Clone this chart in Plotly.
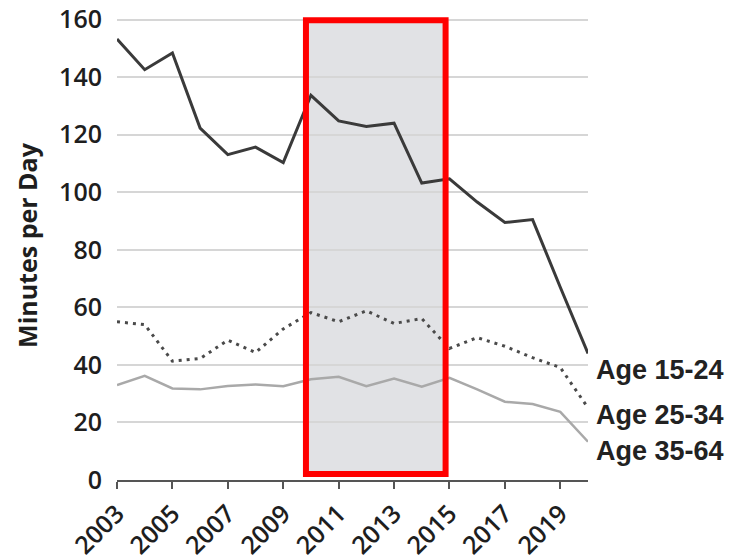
import plotly.graph_objects as go

years = list(range(2003, 2021))
age_15_24 = [153.3, 142.6, 148.4, 122.3, 113.1, 115.7, 110.3, 133.7, 124.8, 122.9,
             124.0, 103.2, 104.7, 96.6, 89.5, 90.5, 67.0, 44.0]
age_25_34 = [55.0, 54.0, 41.3, 42.2, 48.6, 44.3, 52.5, 58.2, 55.0, 58.8,
             54.4, 56.1, 45.7, 49.5, 46.5, 42.5, 39.1, 25.1]
age_35_64 = [33.0, 36.2, 31.8, 31.5, 32.7, 33.2, 32.6, 35.0, 35.9, 32.6,
             35.3, 32.4, 35.5, 31.5, 27.2, 26.4, 23.7, 13.3]
series_names = ["Age 15-24", "Age 25-34", "Age 35-64"]
tick_years = list(range(2003, 2020, 2))
y_ticks = list(range(0, 161, 20))
highlight_start, highlight_end = 2009.82, 2014.86
highlight_low, highlight_high = 2.1, 159.8

fig = go.Figure()
fig.add_trace(go.Scatter(x=years, y=age_35_64, mode="lines", name=series_names[2],
                         line=dict(color="#a9a9a9", width=2.5)))
fig.add_trace(go.Scatter(x=years, y=age_25_34, mode="lines", name=series_names[1],
                         line=dict(color="#4a4a4a", width=3, dash="3px,5px")))
fig.add_trace(go.Scatter(x=years, y=age_15_24, mode="lines", name=series_names[0],
                         line=dict(color="#3a3a3a", width=3)))

# highlight fill (below grid) and red border (above traces)
fig.add_shape(type="rect", xref="x", yref="y", x0=highlight_start, x1=highlight_end,
              y0=highlight_low, y1=highlight_high, fillcolor="#e1e2e5",
              line=dict(width=0), layer="below")
fig.add_shape(type="rect", xref="x", yref="y", x0=highlight_start, x1=highlight_end,
              y0=highlight_low, y1=highlight_high, fillcolor="rgba(0,0,0,0)",
              line=dict(color="#ff0000", width=6), layer="above")

label_font = dict(family="Liberation Sans, Arial, sans-serif", size=27, color="#222222")
label_y = {"Age 15-24": 38.2, "Age 25-34": 22.6, "Age 35-64": 10.1}
for name in series_names:
    fig.add_annotation(x=years[-1], y=label_y[name], xref="x", yref="y", text="<b>%s</b>" % name,
                       showarrow=False, xanchor="left", yanchor="middle", xshift=6,
                       font=label_font)

tick_font = dict(family="Open Sans, sans-serif", size=25, color="#1e1e1e", weight=600)

fig.update_layout(
    width=736, height=560,
    margin=dict(l=117, r=148, t=11, b=80, autoexpand=False),
    plot_bgcolor="white", paper_bgcolor="white",
    showlegend=False,
    xaxis=dict(range=[2003, 2020], tickvals=tick_years, ticktext=[str(y) for y in tick_years],
               tickangle=-45, tickfont=tick_font, showgrid=False, zeroline=False,
               showline=True, linecolor="#555555", linewidth=2, automargin=False,
               ticks="outside", ticklen=7, tickwidth=1.5, tickcolor="#555555",
               ticklabeloverflow="allow"),
    xaxis2=dict(range=[2003, 2020], overlaying="x", anchor="y", side="bottom",
                tickvals=tick_years, showticklabels=False, showgrid=False, zeroline=False,
                showline=False, ticks="inside", ticklen=8, tickwidth=1.5, tickcolor="#555555",
                automargin=False),
    yaxis=dict(range=[0, 163], tickvals=y_ticks, tickfont=tick_font, showgrid=True,
               gridcolor="#d6d6d6", gridwidth=1.5, zeroline=False, showline=False,
               ticks="", ticklabelstandoff=14, automargin=False, ticklabeloverflow="allow",
               title=dict(text="Minutes per Day", font=dict(family="Open Sans, sans-serif",
                                                             size=25, color="#1e1e1e", weight=700),
                          standoff=14)),
)

fig.write_html("out.html", config={"displayModeBar": False},
               post_script="document.body.style.margin='0';")
